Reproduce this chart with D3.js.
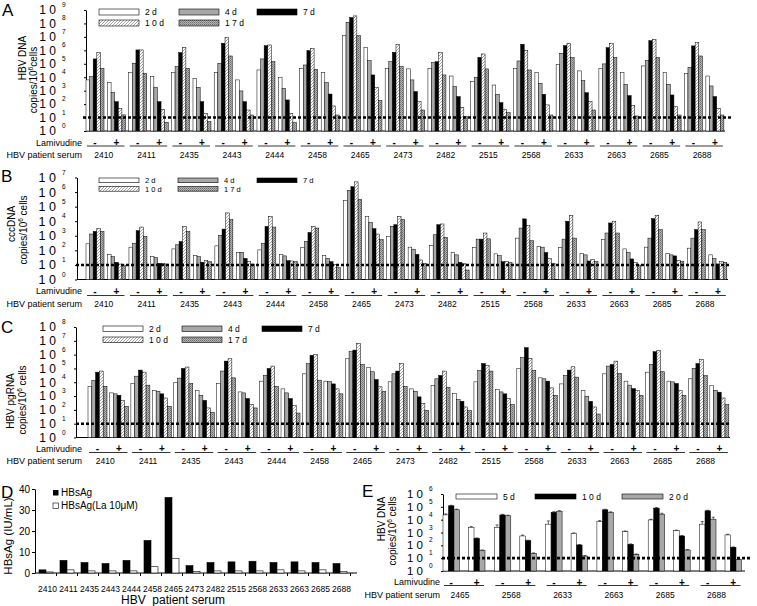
<!DOCTYPE html>
<html><head><meta charset="utf-8">
<script src="https://cdn.jsdelivr.net/npm/d3@7"></script>
<style>
body{margin:0;background:#fff}
svg{display:block}
text{font-family:"Liberation Sans",Arial,Helvetica,sans-serif;fill:#000}
</style>
</head><body>
<svg id="c" width="757" height="606"></svg>
<script>
// ---------------- DATA ----------------
const patients = ["2410","2411","2435","2443","2444","2458","2465","2473","2482","2515","2568","2633","2663","2685","2688"];
const lamivudine = ["-","+"];
const daysABC = ["2 d","4 d","7 d","1 0 d","1 7 d"];
const expTicksA = [0,1,2,3,4,5,6,7,8,9];
const expTicksB = [0,1,2,3,4,5,6,7];
const expTicksC = [0,1,2,3,4,5,6,7,8];
const expTicksE = [0,1,2,3,4,5,6];
const detectionLimit = 10;

// Panel A: HBV DNA, log10 copies/10^6 cells
const A_minus_2d  = [3.8,4.34,4.34,4.34,4.54,4.66,7.1,4.66,4.66,3.67,4.66,4.96,4.66,4.84,4.29];
const A_minus_4d  = [4.04,5.04,4.79,5.04,5.36,4.91,8.09,5.16,5.09,4.0,5.21,5.78,4.99,5.24,4.74];
const A_minus_7d  = [5.36,6.03,5.83,6.53,6.35,5.98,8.44,5.86,5.16,5.48,6.45,6.35,6.2,6.72,6.33];
const A_minus_10d = [5.86,6.03,6.2,6.97,6.4,6.15,8.56,6.45,5.86,5.73,5.98,6.53,6.53,6.82,6.58];
const A_minus_17d = [4.66,4.29,4.66,5.58,5.16,4.59,7.1,4.79,4.17,4.62,4.54,5.46,5.48,5.46,5.58];
const A_plus_2d   = [3.62,4.04,3.92,3.8,4.0,4.34,6.2,4.62,4.09,3.42,4.34,4.47,4.34,4.34,4.09];
const A_plus_4d   = [2.88,3.25,3.25,2.98,3.18,3.6,5.24,3.8,3.3,2.73,3.55,3.75,3.47,3.47,3.35];
const A_plus_7d   = [2.18,2.18,2.18,2.18,2.31,2.75,4.17,2.93,2.56,2.11,2.73,2.85,2.63,2.68,2.56];
const A_plus_10d  = [1.69,1.61,1.32,1.56,1.32,1.86,3.25,2.18,1.76,1.61,1.94,2.18,1.89,1.81,1.69];
const A_plus_17d  = [1.2,0.65,0.69,1.19,0.62,1.19,2.26,1.56,1.07,1.36,1.19,1.56,1.12,1.19,1.19];

// Panel B: cccDNA
const B_minus_2d  = [2.45,2.22,2.1,2.31,2.03,2.19,5.43,2.96,2.33,2.19,2.84,2.19,2.73,2.22,2.15];
const B_minus_4d  = [3.12,2.49,2.38,3.03,2.49,2.61,6.12,3.65,3.07,2.77,3.53,2.77,3.19,2.84,2.84];
const B_minus_7d  = [3.3,3.35,2.61,3.46,3.65,3.23,6.37,3.76,3.76,2.77,4.16,4.0,3.88,4.18,3.42];
const B_minus_10d = [3.49,3.6,3.65,4.57,4.34,3.65,6.7,4.34,3.81,3.19,3.7,4.41,4.0,4.41,3.95];
const B_minus_17d = [3.3,2.96,3.3,4.11,3.6,3.53,5.5,4.11,2.89,2.79,2.66,2.84,3.19,3.42,3.42];
const B_plus_2d   = [1.73,1.57,1.64,1.87,1.73,1.64,4.34,2.22,1.87,1.76,2.26,1.8,2.1,1.8,1.69];
const B_plus_4d   = [1.57,1.5,1.57,1.87,1.62,1.45,3.93,2.08,1.69,1.64,2.22,1.69,1.85,1.69,1.45];
const B_plus_7d   = [1.18,1.11,1.18,1.45,1.29,1.22,3.49,1.73,1.18,1.22,1.85,1.27,1.41,1.62,1.06];
const B_plus_10d  = [1.06,1.11,1.29,1.22,1.27,1.04,3.12,1.34,1.11,1.22,1.45,1.39,1.15,1.29,1.22];
const B_plus_17d  = [0.99,1.06,1.22,1.06,1.22,0.81,2.73,1.11,0.65,1.15,1.11,1.22,0.99,1.22,1.18];

// Panel C: HBV pgRNA
const C_minus_2d  = [3.71,3.91,4.0,3.91,4.08,4.61,5.7,4.03,3.76,4.03,4.98,3.88,4.61,4.73,4.25];
const C_minus_4d  = [4.13,4.44,4.3,4.81,4.51,5.34,6.21,4.61,4.25,4.85,5.78,4.49,5.17,5.29,5.0];
const C_minus_7d  = [4.73,4.88,5.0,5.53,5.0,5.95,6.33,4.81,4.49,5.36,6.5,4.88,5.29,6.21,5.36];
const C_minus_10d = [4.81,4.73,5.1,5.7,5.17,6.02,6.8,5.36,4.81,5.22,5.73,5.12,5.53,6.31,5.66];
const C_minus_17d = [3.71,3.79,3.91,4.32,3.71,4.15,5.29,3.71,3.64,4.81,4.85,4.37,4.64,4.76,4.49];
const C_plus_2d   = [3.23,3.42,3.4,3.3,3.52,4.08,5.05,3.52,3.18,3.47,4.32,3.4,4.08,4.08,3.76];
const C_plus_4d   = [3.16,3.35,3.06,3.23,3.23,4.05,4.76,3.35,2.74,3.3,4.25,2.99,3.79,4.03,3.42];
const C_plus_7d   = [3.06,3.16,2.69,2.82,2.82,3.88,4.2,2.94,2.62,3.16,4.08,2.62,3.54,3.91,3.28];
const C_plus_10d  = [2.67,2.86,2.14,2.38,2.31,3.52,3.67,2.45,2.21,2.82,3.59,2.21,3.4,3.4,2.86];
const C_plus_17d  = [2.26,2.26,1.82,2.14,1.77,3.16,3.35,1.97,1.94,2.38,3.06,1.7,3.06,3.06,2.38];

// Panel D: HBsAg (IU/mL)
const D_hbsag   = [1.5,6,5,4.5,6,15.5,36,3.5,5,5.3,5.6,5,5.3,5,4.5];
const D_hbsagLa = [0.5,1.5,1,1,1,3,7,0.7,1,1,1,1.5,1,1.5,0.7];
const D_ticks = [0,10,20,30,40];
const D_tickLabels = ["0","10","20","30","40"];

// Panel E: HBV DNA (log10)
const patientsE = ["2465","2568","2633","2663","2685","2688"];
const daysE = ["5 d","1 0 d","2 0 d"];
const E_minus_5d  = [4.37,3.41,3.65,3.85,3.98,3.65];
const E_minus_10d = [5.08,4.37,4.58,4.77,4.9,4.69];
const E_minus_20d = [4.77,4.3,4.66,4.56,4.43,4.04];
const E_plus_5d   = [3.41,2.73,2.94,3.07,3.15,2.81];
const E_plus_10d  = [2.55,2.37,2.03,2.08,2.73,1.85];
const E_plus_20d  = [1.61,1.38,1.17,1.3,1.64,0.9];
const E_err_minus_5d  = [0.08,0.18,0.25,0.08,0.05,0.2];
const E_err_minus_10d = [0.04,0.04,0.04,0.04,0.04,0.04];
const E_err_minus_20d = [0.05,0.05,0.04,0.05,0.07,0.15];
const E_err_plus_5d   = [0.05,0.07,0.03,0.05,0.03,0.05];
const E_err_plus_10d  = [0.03,0.03,0.03,0.03,0.03,0.03];
const E_err_plus_20d  = [0.03,0.03,0.03,0.03,0.03,0.03];

// ---------------- DRAW ----------------
const svg = d3.select("#c");
const defs = svg.append("defs");
const ph = defs.append("pattern").attr("id","hatch").attr("patternUnits","userSpaceOnUse").attr("width",3).attr("height",3);
ph.append("rect").attr("width",3).attr("height",3).attr("fill","#fff");
ph.append("path").attr("d","M0,3L3,0M-1,1L1,-1M2,4L4,2").attr("stroke","#8a8a8a").attr("stroke-width",0.8);
const ps = defs.append("pattern").attr("id","stip").attr("patternUnits","userSpaceOnUse").attr("width",2).attr("height",2);
ps.append("rect").attr("width",2).attr("height",2).attr("fill","#b4b4b4");
ps.append("rect").attr("width",1).attr("height",1).attr("fill","#6a6a6a");
ps.append("rect").attr("x",1).attr("y",1).attr("width",1).attr("height",1).attr("fill","#8a8a8a");

const fillsABC = ["#ffffff","#a8a8a8","#000000","url(#hatch)","url(#stip)"];
const fillsE = ["#ffffff","#000000","#a8a8a8"];

// Panel D scales + tick labels
const yD = d3.scaleLinear().domain([0,40]).range([573, 489]);
const xD = d3.scaleBand().domain(patients).range([35.5, 350.5]);
const xDi = d3.scaleBand().domain(["HBsAg","La"]).range([3.5, 17.5]);
const gDlab = svg.append("g").attr("class","d-ticklabels");
D_ticks.forEach((t, i) => {
  gDlab.append("text").attr("x", 30).attr("y", yD(t) + 3.6)
    .attr("text-anchor","end").attr("font-size", 10).text(D_tickLabels[i]);
});

function letter(s, x, y) {
  svg.append("text").attr("x",x).attr("y",y).attr("font-size",17).text(s);
}

function vtitle(g, x, y, parts, size) {
  const t = g.append("text").attr("transform",`translate(${x},${y}) rotate(-90)`)
    .attr("text-anchor","middle").attr("y", size*0.36).attr("font-size",size);
  parts.forEach(p => {
    const ts = t.append("tspan").text(p.t);
    if (p.sup) ts.attr("font-size", size*0.65).attr("dy", -size*0.4);
    if (p.down) ts.attr("dy", size*0.4);
  });
}

function logPanel(c) {
  const g = svg.append("g");
  const n = c.cats.length, ns = c.minus.length;
  const y = d3.scaleLog().domain([1, 10 ** d3.max(c.ticks)]).range([c.y0, c.y1]);
  const x = d3.scaleBand().domain(c.cats).range([c.barStart, c.barStart + c.pitch * n]);
  const span = 2 * c.gw + c.gap;
  const xg = d3.scaleBand().domain(lamivudine).range([0, span]).paddingInner(c.gap / (c.gw + c.gap));
  const xb = d3.scaleBand().domain(d3.range(ns)).range([0, xg.bandwidth()]);

  const yAxis = d3.axisLeft(y).tickValues(c.ticks.map(e => 10 ** e)).tickFormat("").tickSize(2).tickSizeOuter(0);
  const ag = g.append("g").attr("transform", `translate(${c.axisX},0)`).call(yAxis);
  ag.select(".domain").attr("stroke","#000").attr("stroke-width",1);
  ag.selectAll(".tick line").attr("stroke","#000");
  g.append("line").attr("x1", c.axisX).attr("x2", c.xEnd).attr("y1", c.y0).attr("y2", c.y0)
    .attr("stroke","#000").attr("stroke-width",1);

  c.ticks.forEach(e => {
    g.append("text").attr("x", c.labX).attr("y", y(10 ** e) + c.labSize * 0.36).attr("text-anchor","end")
      .attr("font-size", c.labSize).text("1 0");
    g.append("text").attr("x", c.supX).attr("y", y(10 ** e) - 3).attr("font-size", 6.5).text(e);
  });

  [c.minus, c.plus].forEach((ser, ti) => {
    ser.forEach((vals, k) => {
      g.selectAll(null).data(vals.map((v, i) => ({ v, p: c.cats[i] }))).enter().append("rect")
        .attr("x", d => x(d.p) + xg(lamivudine[ti]) + xb(k))
        .attr("width", xb.bandwidth())
        .attr("y", d => y(10 ** d.v))
        .attr("height", d => c.y0 - y(10 ** d.v))
        .attr("fill", c.fills[k]).attr("stroke", "#000").attr("stroke-width", 0.5);
    });
  });
  if (c.errs) {
    [c.minus, c.plus].forEach((ser, ti) => {
      ser.forEach((vals, k) => {
        const ev = c.errs[ti][k];
        vals.forEach((v, i) => {
          const cx = x(c.cats[i]) + xg(lamivudine[ti]) + xb(k) + xb.bandwidth() / 2;
          const yt = y(10 ** (v + ev[i]));
          g.append("line").attr("x1", cx).attr("x2", cx).attr("y1", y(10 ** v)).attr("y2", yt).attr("stroke","#000").attr("stroke-width",0.6);
          g.append("line").attr("x1", cx - 1.5).attr("x2", cx + 1.5).attr("y1", yt).attr("y2", yt).attr("stroke","#000").attr("stroke-width",0.6);
        });
      });
    });
  }

  g.append("line").attr("x1", c.dashX0).attr("x2", c.dashX1).attr("y1", y(detectionLimit)).attr("y2", y(detectionLimit))
    .attr("stroke","#000").attr("stroke-width",2.6).attr("stroke-dasharray","3,2");

  c.legend.forEach((lab, k) => {
    const [bx, by] = c.legPos[k];
    g.append("rect").attr("x", bx).attr("y", by).attr("width", c.legW).attr("height", c.legH)
      .attr("fill", c.fills[k]).attr("stroke","#000").attr("stroke-width",0.6);
    g.append("text").attr("x", bx + c.legW + 6).attr("y", by + c.legH / 2 + c.legFont * 0.36)
      .attr("font-size", c.legFont).text(lab);
  });

  g.append("text").attr("x", c.rowLabX).attr("y", c.pmY + 3.2).attr("text-anchor","end").attr("font-size",9).text("Lamivudine");
  g.append("text").attr("x", c.rowLabX).attr("y", c.patY + 3.2).attr("text-anchor","end").attr("font-size",9).text("HBV patient serum");
  c.cats.forEach(p => {
    lamivudine.forEach(t => {
      g.append("text").attr("x", x(p) + xg(t) + xg.bandwidth() / 2).attr("y", c.pmY + 3.5)
        .attr("text-anchor","middle").attr("font-size",10).attr("font-weight","bold").text(t);
    });
    g.append("line").attr("x1", x(p) + 1).attr("x2", x(p) + span - 1).attr("y1", c.ulY).attr("y2", c.ulY)
      .attr("stroke","#000").attr("stroke-width",0.8);
    g.append("text").attr("x", x(p) + span / 2 + (c.patOff || 0)).attr("y", c.patY + 3.2).attr("text-anchor","middle")
      .attr("font-size",8.5).text(p);
  });

  vtitle(g, c.t1x, c.t1y, c.t1, 10);
  vtitle(g, c.t2x, c.t2y, c.t2, 10);
}

const titleCopies = sp => [{t:"copies/10"},{t:"6",sup:true},{t:(sp ? " cells" : "cells"),down:true}];

letter("A", 2, 16);
logPanel({
  cats: patients, ticks: expTicksA,
  minus: [A_minus_2d, A_minus_4d, A_minus_7d, A_minus_10d, A_minus_17d],
  plus:  [A_plus_2d, A_plus_4d, A_plus_7d, A_plus_10d, A_plus_17d],
  fills: fillsABC, legend: daysABC, legFont: 8.5,
  axisX: 86, barStart: 86, pitch: 42.74, gw: 18, gap: 3.5, y0: 131, y1: 10, xEnd: 725,
  dashX0: 83, dashX1: 731, labX: 56, supX: 62, labSize: 12,
  legPos: [[99,9],[179,9],[257,9],[99,20],[179,20]], legW: 40, legH: 6,
  rowLabX: 82, pmY: 142.5, ulY: 146, patY: 155, patOff: -2,
  t1: [{t:"HBV DNA"}], t2: titleCopies(false), t1x: 22, t1y: 58, t2x: 33.5, t2y: 80
});

letter("B", 1, 182);
logPanel({
  cats: patients, ticks: expTicksB,
  minus: [B_minus_2d, B_minus_4d, B_minus_7d, B_minus_10d, B_minus_17d],
  plus:  [B_plus_2d, B_plus_4d, B_plus_7d, B_plus_10d, B_plus_17d],
  fills: fillsABC, legend: daysABC, legFont: 7.5,
  axisX: 77, barStart: 86, pitch: 42.95, gw: 18, gap: 3.5, y0: 279.5, y1: 177.5, xEnd: 728,
  dashX0: 76, dashX1: 731, labX: 56, supX: 62, labSize: 12.5,
  legPos: [[99,178],[178,178],[257,178],[99,186.5],[178,186.5]], legW: 40, legH: 4.7,
  rowLabX: 82, pmY: 291, ulY: 295.5, patY: 303.5, patOff: -2,
  t1: [{t:"cccDNA"}], t2: titleCopies(true), t1x: 11, t1y: 224, t2x: 23, t2y: 230
});

letter("C", 1, 333);
logPanel({
  cats: patients, ticks: expTicksC,
  minus: [C_minus_2d, C_minus_4d, C_minus_7d, C_minus_10d, C_minus_17d],
  plus:  [C_plus_2d, C_plus_4d, C_plus_7d, C_plus_10d, C_plus_17d],
  fills: fillsABC, legend: daysABC, legFont: 8.5,
  axisX: 76, barStart: 88, pitch: 42.88, gw: 19, gap: 2.5, y0: 437.5, y1: 327, xEnd: 730,
  dashX0: 76, dashX1: 731, labX: 56, supX: 62, labSize: 12,
  legPos: [[103,326],[182,326],[262,326],[103,337],[182,337]], legW: 40, legH: 5.5,
  rowLabX: 82, pmY: 448.5, ulY: 452.5, patY: 461, patOff: -3,
  t1: [{t:"HBV pgRNA"}], t2: titleCopies(true), t1x: 10, t1y: 401, t2x: 22, t2y: 400
});

letter("E", 362, 497);
logPanel({
  cats: patientsE, ticks: expTicksE,
  minus: [E_minus_5d, E_minus_10d, E_minus_20d],
  plus:  [E_plus_5d, E_plus_10d, E_plus_20d],
  errs: [[E_err_minus_5d, E_err_minus_10d, E_err_minus_20d],[E_err_plus_5d, E_err_plus_10d, E_err_plus_20d]],
  fills: fillsE, legend: daysE, legFont: 8.5,
  axisX: 443, barStart: 443, pitch: 51.3, gw: 16.5, gap: 9, y0: 571, y1: 494, xEnd: 745,
  dashX0: 442, dashX1: 750, labX: 423, supX: 429, labSize: 11.5,
  legPos: [[456,494],[535,494],[622,494]], legW: 41, legH: 5,
  rowLabX: 440, pmY: 582, ulY: 585.5, patY: 595, patOff: -4,
  t1: [{t:"HBV DNA"}], t2: titleCopies(true), t1x: 381, t1y: 519, t2x: 392, t2y: 531
});

// Panel D body
letter("D", 1, 498);
const gD = svg.append("g").attr("class","panelD");
gD.append("g").attr("transform","translate(35,0)")
  .call(d3.axisLeft(yD).tickValues(D_ticks).tickSize(3).tickSizeOuter(0).tickFormat(""))
  .call(s => s.select(".domain").attr("stroke","#000"))
  .call(s => s.selectAll(".tick line").attr("stroke","#000"));
gD.append("line").attr("x1",35).attr("x2",357).attr("y1",573).attr("y2",573).attr("stroke","#000");
patients.forEach(p => {
  const bx = xD(p) + xD.bandwidth();
  gD.append("line").attr("x1",bx).attr("x2",bx).attr("y1",573).attr("y2",576).attr("stroke","#000");
});
[[D_hbsag,"HBsAg","#000"],[D_hbsagLa,"La","#fff"]].forEach(([vals,key,fill]) => {
  gD.selectAll(null).data(vals.map((v,i)=>({v,p:patients[i]}))).enter().append("rect")
    .attr("x", d => xD(d.p) + xDi(key)).attr("width", xDi.bandwidth())
    .attr("y", d => yD(d.v)).attr("height", d => 573 - yD(d.v))
    .attr("fill", fill).attr("stroke","#000").attr("stroke-width",0.6);
});
patients.forEach(p => {
  gD.append("text").attr("x", xD(p) + xD.bandwidth()/2 + 1.5).attr("y", 592).attr("text-anchor","middle")
    .attr("font-size",8.5).text(p);
});
gD.append("text").attr("x",173).attr("y",604).attr("text-anchor","middle").attr("font-size",12)
  .text("HBV\u00A0 patient serum");
vtitle(gD, 7.5, 536, [{t:"HBsAg (IU/mL)"}], 11.5);
gD.append("rect").attr("x",53).attr("y",490).attr("width",5.5).attr("height",5.5).attr("fill","#000");
gD.append("text").attr("x",61).attr("y",496).attr("font-size",10).text("HBsAg");
gD.append("rect").attr("x",53).attr("y",503).attr("width",5.5).attr("height",5.5).attr("fill","#fff").attr("stroke","#000").attr("stroke-width",0.6);
gD.append("text").attr("x",61).attr("y",509).attr("font-size",10).text("HBsAg(La 10μM)");
</script>
</body></html>
